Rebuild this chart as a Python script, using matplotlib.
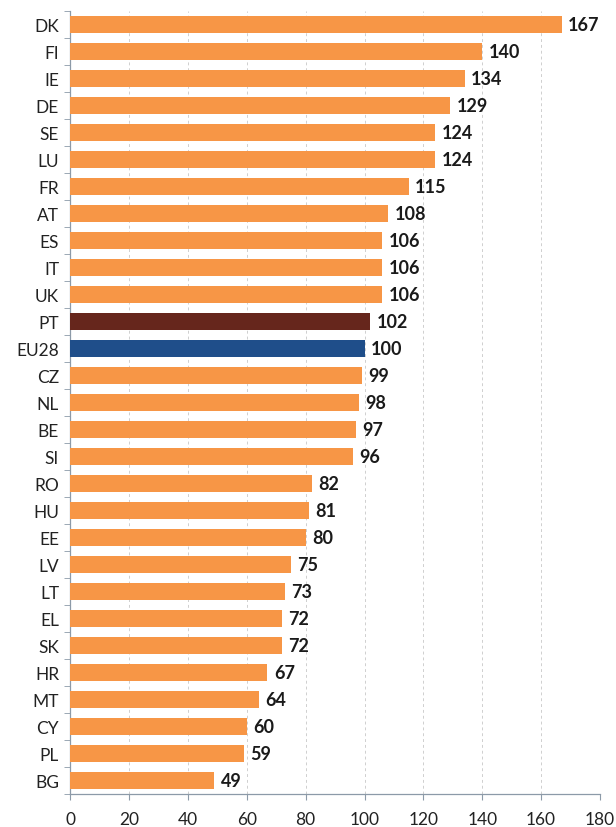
import matplotlib.pyplot as plt
from matplotlib.ticker import FixedLocator

countries = ["DK", "FI", "IE", "DE", "SE", "LU", "FR", "AT", "ES", "IT", "UK",
             "PT", "EU28", "CZ", "NL", "BE", "SI", "RO", "HU", "EE", "LV", "LT",
             "EL", "SK", "HR", "MT", "CY", "PL", "BG"]
values = [167, 140, 134, 129, 124, 124, 115, 108, 106, 106, 106,
          102, 100, 99, 98, 97, 96, 82, 81, 80, 75, 73,
          72, 72, 67, 64, 60, 59, 49]
xticks = list(range(0, 181, 20))

orange = "#F79646"
highlight = {"PT": "#66261C", "EU28": "#1F4E8A"}
colors = [highlight.get(c, orange) for c in countries]

plt.rcParams["font.family"] = ["Lato", "DejaVu Sans"]

fig = plt.figure(figsize=(6.16, 8.28), dpi=100)
ax = fig.add_axes([0.114, 0.040, 0.860, 0.945])

n = len(countries)
ypos = list(range(n))[::-1]
ax.barh(ypos, values, height=0.63, color=colors, zorder=3)

for y, v in zip(ypos, values):
    ax.text(v + 2.2, y, str(v), va="center", ha="left",
            fontsize=13, fontweight="bold", color="#1a1a1a", zorder=4)

ax.set_xlim(0, 180)
ax.set_ylim(-0.5, n - 0.5)
ax.set_xticks(xticks)
ax.set_yticks(ypos)
ax.set_yticklabels(countries, fontsize=12.5, color="#222222")
ax.yaxis.set_minor_locator(FixedLocator([i - 0.5 for i in range(n + 1)]))
ax.tick_params(axis="y", which="major", length=0, pad=8)
ax.tick_params(axis="y", which="minor", length=4, color="#8c9aa8")
ax.tick_params(axis="x", length=4, color="#8c9aa8", labelsize=12.5,
               labelcolor="#222222", pad=8)

ax.grid(axis="x", linestyle=(0, (3, 3)), color="#cfcfcf", linewidth=0.7, zorder=0)
for side in ["top", "right"]:
    ax.spines[side].set_visible(False)
for side in ["left", "bottom"]:
    ax.spines[side].set_color("#8c9aa8")
    ax.spines[side].set_linewidth(0.9)

fig.savefig("out.png", dpi=100)
